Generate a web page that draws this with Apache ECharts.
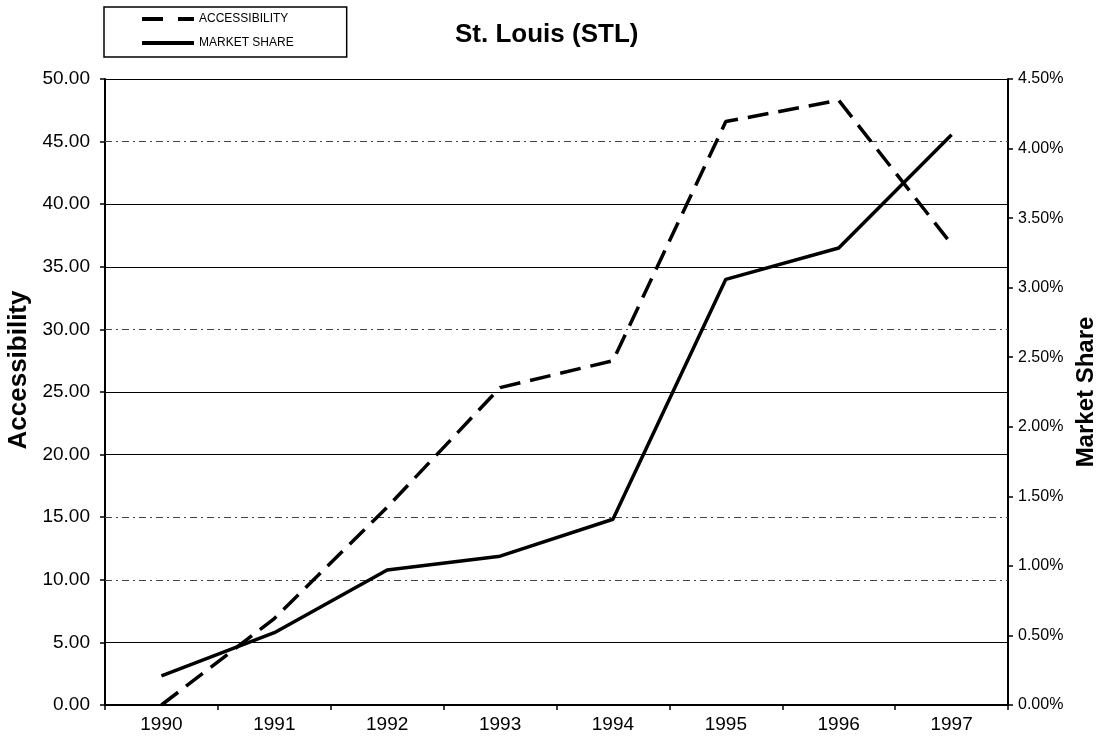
<!DOCTYPE html>
<html>
<head>
<meta charset="utf-8">
<script src="https://cdn.jsdelivr.net/npm/echarts@6/dist/echarts.min.js"></script>
<style>
html,body{margin:0;padding:0;background:#fff;overflow:hidden;}
#chart{width:1097px;height:746px;}
</style>
</head>
<body>
<div id="chart"></div>
<script>
const years = ['1990','1991','1992','1993','1994','1995','1996','1997'];
const accessibility = [0.0, 6.9, 15.8, 25.35, 27.5, 46.6, 48.3, 36.8];
const marketShare = [0.21, 0.52, 0.97, 1.07, 1.335, 3.06, 3.285, 4.10];
const dottedGridValues = [10, 15, 30, 45];
const splitColors = ['#000','#000','transparent','transparent','#000','#000','transparent','#000','#000','transparent','#000'];

const chart = echarts.init(document.getElementById('chart'));
const FONT = 'Liberation Sans, Arial, sans-serif';
chart.setOption({
  animation: false,
  backgroundColor: '#fff',
  textStyle: { fontFamily: FONT, color: '#000' },
  title: {
    text: 'St. Louis (STL)',
    left: 450, top: 17,
    textStyle: { fontFamily: FONT, fontSize: 26, fontWeight: 'bold', color: '#000' }
  },
  legend: {
    left: 104, top: 7,
    orient: 'vertical',
    padding: [5, 53, 7, 38],
    borderColor: '#000', borderWidth: 1.5,
    itemWidth: 52, itemHeight: 4, itemGap: 10,
    textStyle: { fontFamily: FONT, fontSize: 12, color: '#000', lineHeight: 14 },
    data: [
      { name: 'ACCESSIBILITY', icon: 'path://M0,0h21v4h-21z M36,0h16v4h-16z' },
      { name: 'MARKET SHARE', icon: 'path://M0,0h52v4h-52z' }
    ]
  },
  grid: { left: 105, right: 89, top: 79, bottom: 41, containLabel: false, outerBoundsMode: 'none' },
  xAxis: {
    type: 'category',
    data: years,
    boundaryGap: true,
    axisLine: { lineStyle: { color: '#000', width: 2 } },
    axisTick: { show: true, length: 5, lineStyle: { color: '#000', width: 1.5 } },
    axisLabel: { fontFamily: FONT, fontSize: 19, color: '#000', margin: 10 }
  },
  yAxis: [
    {
      type: 'value', min: 0, max: 50, interval: 5,
      name: 'Accessibility', nameLocation: 'middle', nameGap: 71,
      nameTextStyle: { fontFamily: FONT, fontSize: 26, fontWeight: 'bold', color: '#000', padding: [0, 0, 0, 44] },
      axisLine: { show: true, lineStyle: { color: '#000', width: 2 } },
      axisTick: { show: true, length: 5, lineStyle: { color: '#000', width: 1.5 } },
      axisLabel: { fontFamily: FONT, fontSize: 19, color: '#000', margin: 15, formatter: v => v.toFixed(2) },
      splitLine: { show: true, lineStyle: { color: splitColors, width: 1.2 } }
    },
    {
      type: 'value', min: 0, max: 4.5, interval: 0.5, position: 'right',
      name: 'Market Share', nameLocation: 'middle', nameGap: 63,
      nameTextStyle: { fontFamily: FONT, fontSize: 24, fontWeight: 'bold', color: '#000' },
      axisLine: { show: true, lineStyle: { color: '#000', width: 2 } },
      axisTick: { show: true, length: 5, lineStyle: { color: '#000', width: 1.5 } },
      axisLabel: { fontFamily: FONT, fontSize: 16, color: '#000', margin: 10, formatter: v => v.toFixed(2) + '%' },
      splitLine: { show: false }
    }
  ],
  series: [
    {
      name: 'ACCESSIBILITY', type: 'line', yAxisIndex: 0,
      data: accessibility, symbol: 'none', showSymbol: false,
      lineStyle: { color: '#000', width: 3.5, type: [21, 10] },
      itemStyle: { color: '#000' },
      markLine: {
        silent: true, symbol: 'none', label: { show: false },
        lineStyle: { color: '#444', width: 1, type: [7, 4, 2, 4] },
        data: dottedGridValues.map(v => ({ yAxis: v }))
      },
      z: 5
    },
    {
      name: 'MARKET SHARE', type: 'line', yAxisIndex: 1,
      data: marketShare, symbol: 'none', showSymbol: false,
      lineStyle: { color: '#000', width: 3.5, type: 'solid' },
      itemStyle: { color: '#000' },
      z: 5
    }
  ]
});
</script>
</body>
</html>
